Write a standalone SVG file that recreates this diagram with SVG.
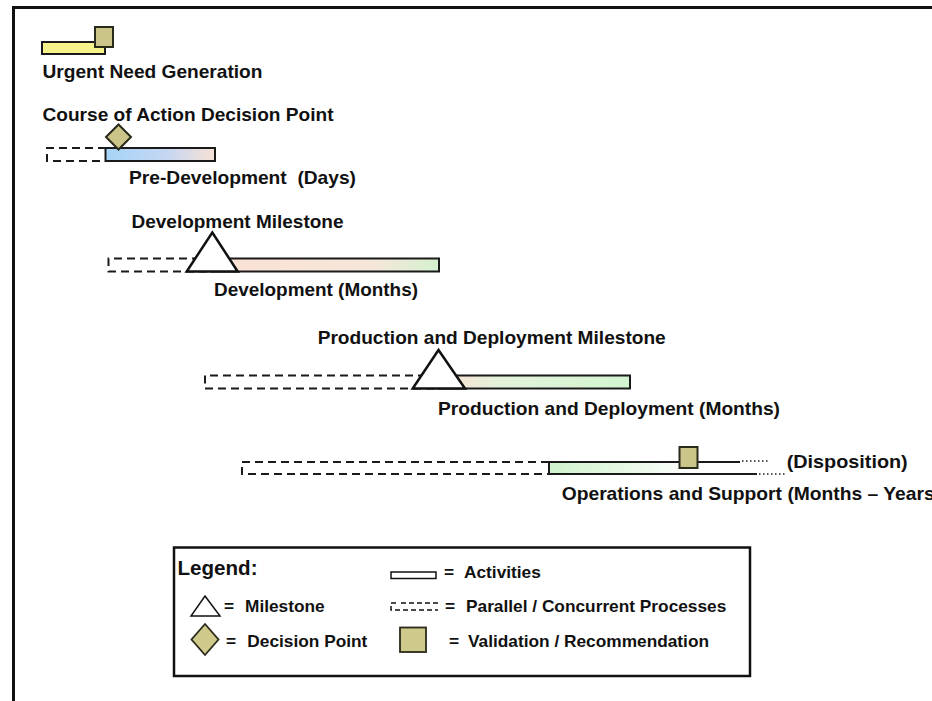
<svg xmlns="http://www.w3.org/2000/svg" width="932" height="701" viewBox="0 0 932 701">
<style>
  text { font-family: "Liberation Sans", Arial, sans-serif; font-weight: bold; fill: #111; }
  .lbl { font-size: 19px; }
  .leg { font-size: 17.3px; }
  .bar { stroke: #1a1a1a; stroke-width: 2; }
  .dash { fill: none; stroke: #1a1a1a; stroke-width: 2; stroke-dasharray: 8 5; }
  .tri { fill: #ffffff; stroke: #111; stroke-width: 2.5; stroke-linejoin: miter; }
  .khaki { fill: #cbc58a; stroke: #2a2a1a; stroke-width: 2; }
  .dot { fill: none; stroke: #1a1a1a; stroke-width: 1.5; stroke-dasharray: 1.5 2.5; }
</style>
<defs>
  <linearGradient id="gBlue" x1="0" y1="0" x2="1" y2="0">
    <stop offset="0" stop-color="#a6d4f7"/>
    <stop offset="0.55" stop-color="#c4d6f2"/>
    <stop offset="1" stop-color="#f7e2d6"/>
  </linearGradient>
  <linearGradient id="gDev" x1="0" y1="0" x2="1" y2="0">
    <stop offset="0" stop-color="#fbe1d4"/>
    <stop offset="0.7" stop-color="#f6e6da"/>
    <stop offset="1" stop-color="#d5f1cf"/>
  </linearGradient>
  <linearGradient id="gProd" x1="0" y1="0" x2="1" y2="0">
    <stop offset="0" stop-color="#fbe0d2"/>
    <stop offset="0.35" stop-color="#e2f3da"/>
    <stop offset="1" stop-color="#d3f5d0"/>
  </linearGradient>
  <linearGradient id="gOps" x1="0" y1="0" x2="1" y2="0">
    <stop offset="0" stop-color="#d0f3cc"/>
    <stop offset="0.45" stop-color="#ecf9ea"/>
    <stop offset="0.7" stop-color="#ffffff"/>
    <stop offset="1" stop-color="#ffffff"/>
  </linearGradient>
</defs>
<rect width="932" height="701" fill="#ffffff"/>
<path d="M13.5,701 V7.5 H932" fill="none" stroke="#111" stroke-width="3"/>

<g id="connectors">
  <path class="dash" d="M106,148 H47 V161 H106"/>
  <path class="dash" d="M213,258.5 H108.5 V271.5 H213"/>
  <path class="dash" d="M439,375.5 H205 V388.5 H439"/>
  <path class="dash" d="M549,462 H242 V474 H549"/>
</g>

<g id="urgent-need-generation">
  <rect class="bar" x="42" y="42" width="63" height="12" fill="#f6f28c"/>
  <rect class="khaki" x="95" y="27" width="18" height="20"/>
  <text class="lbl" x="42.5" y="78" textLength="220" lengthAdjust="spacingAndGlyphs">Urgent Need Generation</text>
</g>

<g id="pre-development">
  <text class="lbl" x="42.5" y="120.5" textLength="291" lengthAdjust="spacingAndGlyphs">Course of Action Decision Point</text>
  <rect class="bar" x="105.5" y="148" width="109.5" height="13" fill="url(#gBlue)"/>
  <polygon class="khaki" points="118.5,124.5 131,137 118.5,149.5 106,137" fill="#c5bc8e"/>
  <text class="lbl" x="129" y="184" textLength="227" lengthAdjust="spacingAndGlyphs" xml:space="preserve">Pre-Development  (Days)</text>
</g>

<g id="development">
  <text class="lbl" x="131.5" y="227.5" textLength="212" lengthAdjust="spacingAndGlyphs">Development Milestone</text>
  <rect class="bar" x="212" y="258.5" width="227" height="13" fill="url(#gDev)"/>
  <polygon class="tri" points="212.3,232.5 237.7,271.5 186.7,271.5"/>
  <text class="lbl" x="214" y="295.5" textLength="204" lengthAdjust="spacingAndGlyphs">Development (Months)</text>
</g>

<g id="production-deployment">
  <text class="lbl" x="317.7" y="344" textLength="348" lengthAdjust="spacingAndGlyphs">Production and Deployment Milestone</text>
  <rect class="bar" x="438" y="375.5" width="192" height="13" fill="url(#gProd)"/>
  <polygon class="tri" points="438.5,350 465,388.5 412.7,388.5"/>
  <text class="lbl" x="438" y="415" textLength="342" lengthAdjust="spacingAndGlyphs">Production and Deployment (Months)</text>
</g>

<g id="operations-support">
  <rect x="549" y="462" width="208" height="12" fill="url(#gOps)"/>
  <path d="M740,462 H549 V474 H757" fill="none" stroke="#1a1a1a" stroke-width="2"/>
  <path class="dot" d="M742,461 H768"/>
  <path class="dot" d="M759,474 H787"/>
  <rect class="khaki" x="679.5" y="447" width="18" height="21"/>
  <text class="lbl" x="786.7" y="468" textLength="121" lengthAdjust="spacingAndGlyphs">(Disposition)</text>
  <text class="lbl" x="561.7" y="500" textLength="373" lengthAdjust="spacingAndGlyphs">Operations and Support (Months – Years</text>
</g>

<g id="legend">
  <rect x="174" y="547.5" width="576" height="128.5" fill="#ffffff" stroke="#111" stroke-width="2.5"/>
  <text x="177.5" y="574.5" style="font-size:20.5px" textLength="80" lengthAdjust="spacingAndGlyphs">Legend:</text>
  <rect x="391" y="572" width="45" height="6.5" fill="#ffffff" stroke="#111" stroke-width="1.5"/>
  <text class="leg" x="444" y="578">=<tspan x="464">Activities</tspan></text>
  <polygon points="205,596 220,616 191,616" fill="#ffffff" stroke="#111" stroke-width="1.5"/>
  <text class="leg" x="224" y="612">=<tspan x="245">Milestone</tspan></text>
  <path d="M396,603 H391 V610 H438 M438,603 H400" fill="none" stroke="#111" stroke-width="1.5" stroke-dasharray="5 3"/>
  <text class="leg" x="445" y="611.5">=<tspan x="466">Parallel / Concurrent Processes</tspan></text>
  <polygon points="205,624 218.5,639.5 205,655 191.5,639.5" fill="#cfca8c" stroke="#2a2a1a" stroke-width="1.8"/>
  <text class="leg" x="226" y="646.5">=<tspan x="247.3">Decision Point</tspan></text>
  <rect x="400" y="627.5" width="26" height="24.5" fill="#cfca8c" stroke="#2a2a1a" stroke-width="1.8"/>
  <text class="leg" x="449" y="646.5">=<tspan x="468">Validation / Recommendation</tspan></text>
</g>
</svg>
